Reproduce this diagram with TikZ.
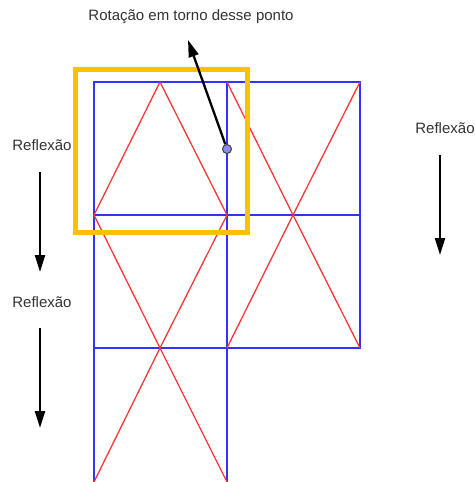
\documentclass[tikz,border=0pt]{standalone}
\usepackage{fontspec}
\setmainfont{Liberation Sans}
\usetikzlibrary{arrows.meta}
\usepackage{xcolor}
\definecolor{cblue}{HTML}{3333F5}
\definecolor{cred}{HTML}{F53838}
\definecolor{cgold}{HTML}{FFC000}
\definecolor{cpivot}{HTML}{8C8CF0}
\definecolor{ctext}{HTML}{333333}

\begin{document}
\begin{tikzpicture}[x=1pt, y=-1pt,
    gridcell/.style={draw=cblue, line width=2pt},
    zigzag/.style={draw=cred, line width=1.3pt},
    frame/.style={draw=cgold, line width=5pt},
    pivot/.style={circle, draw=black!75, fill=cpivot, line width=1pt,
                  minimum size=9pt, inner sep=0pt},
    note/.style={font=\fontsize{15}{18}\selectfont, text=ctext},
    arrowline/.style={-{Triangle[length=17pt, width=10pt]}, line width=2.3pt}]
  \useasboundingbox (0,0) rectangle (474,482);

  % blue squares (the last one runs off the bottom edge)
  \foreach \x/\y in {94/82, 227/82, 94/215, 227/215}
    \draw[gridcell] (\x,\y) rectangle ++(133,133);
  \draw[gridcell] (94,495) -- (94,348) -- (227,348) -- (227,495);

  % red triangles
  \draw[zigzag] (160,82) -- (94,215) -- (160,348) -- (94,482);
  \draw[zigzag] (160,82) -- (227,215) -- (160,348) -- (227,482);
  \draw[zigzag] (227,82) -- (293,215) -- (227,348);
  \draw[zigzag] (360,82) -- (293,215) -- (360,348);

  % highlighted square
  \draw[frame] (75,69) rectangle (247,232);

  % rotation point
  \node[pivot] (pivot) at (227,149) {};
  \node[note] (rot) at (191,17) {Rotação em torno desse ponto};
  \coordinate (rottip) at (188,40);
  \draw[arrowline] (pivot) -- (rottip);

  % reflections
  \node[note] (refla) at (42,145) {Reflexão};
  \node[note] (reflb) at (42,302) {Reflexão};
  \node[note] (reflc) at (445,128) {Reflexão};
  \coordinate (a1) at (40,172);  \coordinate (a2) at (40,272);
  \coordinate (b1) at (40,328);  \coordinate (b2) at (40,428);
  \coordinate (c1) at (440,155); \coordinate (c2) at (440,255);
  \draw[arrowline] (a1) -- (a2);
  \draw[arrowline] (b1) -- (b2);
  \draw[arrowline] (c1) -- (c2);
\end{tikzpicture}
\end{document}
